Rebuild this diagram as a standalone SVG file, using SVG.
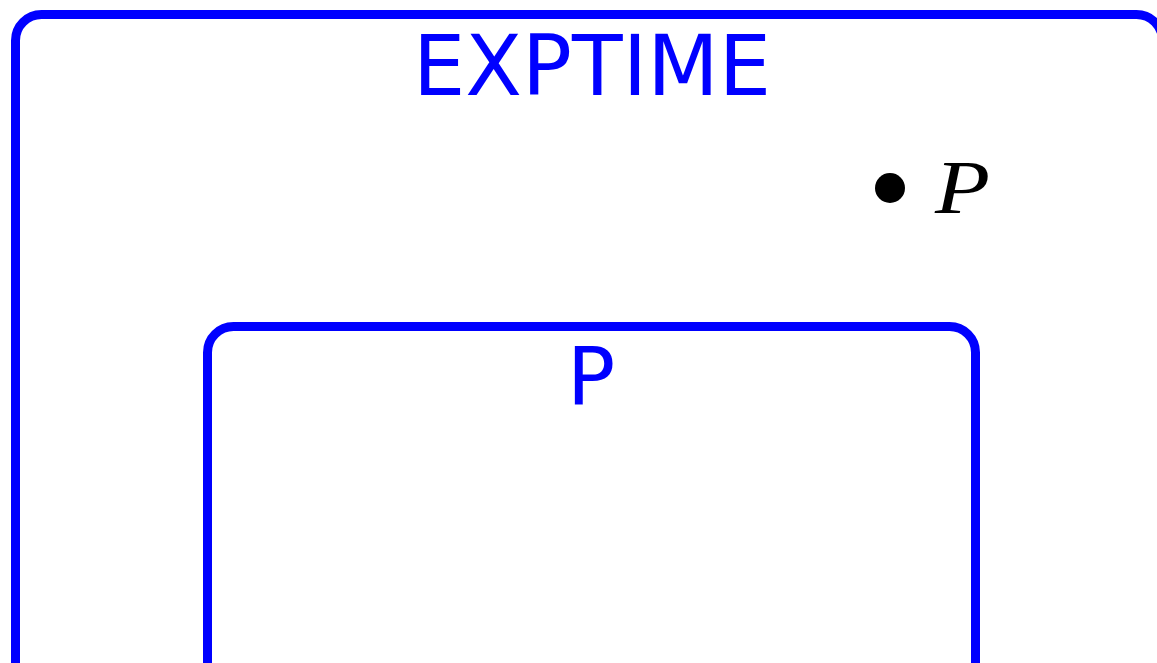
<svg xmlns="http://www.w3.org/2000/svg" width="1157" height="663" viewBox="0 0 1157 663">
<style>
.box{fill:none;stroke:#0000ff;stroke-width:9}
.lbl{font-family:"DejaVu Sans",sans-serif;fill:#0000ff;text-anchor:middle}
</style>
<rect width="1157" height="663" fill="#fff"/>
<g id="exptime">
<rect class="box" x="15.5" y="14.5" width="1147" height="700" rx="26"/>
<text class="lbl" x="592" y="95" font-size="83" textLength="358" lengthAdjust="spacingAndGlyphs">EXPTIME</text>
</g>
<g id="p-class">
<rect class="box" x="207.5" y="326.5" width="768" height="400" rx="26"/>
<text class="lbl" x="591" y="405" font-size="80">P</text>
</g>
<g id="point-p">
<circle cx="890" cy="188" r="15" fill="#000"/>
<text x="935" y="213" font-family="Liberation Serif, serif" font-style="italic" font-size="76" fill="#000" textLength="55" lengthAdjust="spacingAndGlyphs">P</text>
</g>
<g id="connectors"></g>
</svg>
